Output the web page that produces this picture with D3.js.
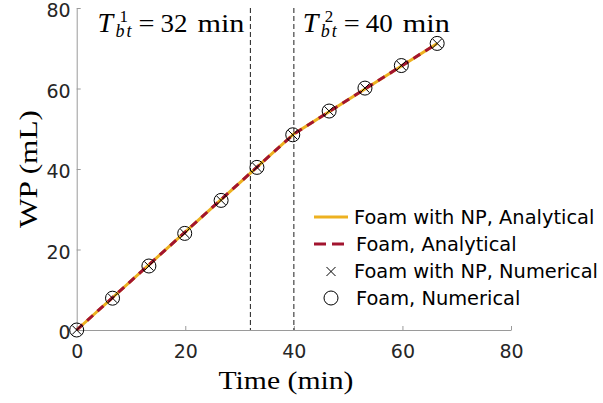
<!DOCTYPE html>
<html>
<head>
<meta charset="utf-8">
<script src="https://cdn.jsdelivr.net/npm/d3@7"></script>
<style>
  body { margin: 0; background: #fff; }
  svg { display: block; }
</style>
</head>
<body>
<div id="js-chart"></div>
<script>
//  Chart data
var xTicks = [0, 20, 40, 60, 80];
var yTicks = [0, 20, 40, 60, 80];

//  Analytical curves
var anaTime = [0, 32, 40, 66.4];
var npAnaWP = [0, 39.0, 48.7, 71.2];
var foamAnaWP = [0, 39.0, 48.7, 71.2];

//  Numerical points
var numTime = [0, 6.6, 13.3, 19.9, 26.6, 33.2, 39.8, 46.5, 53.1, 59.8, 66.4];
var npNumWP = [0, 7.9, 15.9, 24.0, 32.2, 40.4, 48.5, 54.4, 60.1, 65.7, 71.2];
var foamNumWP = [0, 7.9, 15.9, 24.0, 32.2, 40.4, 48.5, 54.4, 60.1, 65.7, 71.2];

//  Breakthrough times
var breakTimes = [32, 40];
var breakLabels = ["1", "2"];

var legendLabels = ["Foam with NP, Analytical", "Foam, Analytical",
                    "Foam with NP, Numerical", "Foam, Numerical"];

var yellow = "#EDB120";
var red = "#A2142F";
var serif = "'Liberation Serif', 'DejaVu Serif', serif";
var sans = "'DejaVu Sans', sans-serif";

// ---------------------------------------------------------------------------------- //

var svg = d3.select("#js-chart")
  .append("svg")
  .attr("width", 603)
  .attr("height", 403);

var x = d3.scaleLinear().domain([0, 80]).range([76.7, 511]);
var y = d3.scaleLinear().domain([0, 80]).range([330, 8]);

//  Axes (ticks inside)
var xAxis = svg.append("g")
  .attr("transform", "translate(0," + y(0) + ")")
  .call(d3.axisBottom(x).tickValues(xTicks).tickSize(-4).tickSizeOuter(0).tickPadding(10));

var yAxis = svg.append("g")
  .attr("transform", "translate(" + x(0) + ",0)")
  .call(d3.axisLeft(y).tickValues(yTicks).tickSize(-4).tickSizeOuter(0).tickPadding(6));

[xAxis, yAxis].forEach(function(ax) {
  ax.select(".domain").attr("stroke", "#9a9a9a").attr("stroke-width", 1);
  ax.selectAll(".tick line").attr("stroke", "#9a9a9a");
  ax.selectAll(".tick text")
    .attr("fill", "#262626")
    .style("font-family", sans)
    .style("font-size", "19px");
});
xAxis.selectAll(".tick text").attr("dy", "0.95em");
yAxis.selectAll(".tick text").attr("dy", "0.45em");

//  Axis titles
svg.append("text")
  .attr("x", 286)
  .attr("y", 389)
  .attr("text-anchor", "middle")
  .attr("textLength", 135)
  .attr("lengthAdjust", "spacingAndGlyphs")
  .style("font-family", serif)
  .style("font-size", "25px")
  .attr("fill", "#000")
  .text("Time (min)");

svg.append("text")
  .attr("transform", "translate(37," + ((y(0) + y(80)) / 2) + ") rotate(-90)")
  .attr("text-anchor", "middle")
  .attr("textLength", 118)
  .attr("lengthAdjust", "spacingAndGlyphs")
  .style("font-family", serif)
  .style("font-size", "25px")
  .attr("fill", "#000")
  .text("WP (mL)");

//  Breakthrough lines
svg.selectAll(".bt-line")
  .data(breakTimes)
  .enter().append("line")
  .attr("class", "bt-line")
  .attr("x1", function(d) { return x(d); })
  .attr("x2", function(d) { return x(d); })
  .attr("y1", y(80))
  .attr("y2", y(0))
  .attr("stroke", "#333")
  .attr("stroke-width", 1.1)
  .attr("stroke-dasharray", "5,3");

//  Breakthrough labels  (T_bt^i = t min)
breakTimes.forEach(function(t, i) {
  var x0 = i === 0 ? x(t) - 153 : x(t) + 9;
  var g = svg.append("g")
    .attr("transform", "translate(" + x0 + ",31.5)")
    .style("font-family", serif)
    .attr("fill", "#000");

  // T with super- and subscript in one text element
  var sym = g.append("text").attr("x", 0).attr("y", 0);
  sym.append("tspan")
    .style("font-style", "italic").style("font-size", "28px").text("T");
  sym.append("tspan").attr("x", 22).attr("y", -9.5)
    .style("font-size", "17px").text(breakLabels[i]);
  sym.append("tspan").attr("x", 18).attr("y", 5.5)
    .style("font-style", "italic").style("font-size", "18px")
    .style("letter-spacing", "2px").text("bt");

  g.append("text").attr("x", 41).attr("y", 0)
    .attr("textLength", 16).attr("lengthAdjust", "spacingAndGlyphs")
    .style("font-size", "26px").text("=");
  g.append("text").attr("x", 63).attr("y", 0)
    .attr("textLength", 27).attr("lengthAdjust", "spacingAndGlyphs")
    .style("font-size", "26px").text(t);
  g.append("text").attr("x", 100).attr("y", 0)
    .attr("textLength", 47).attr("lengthAdjust", "spacingAndGlyphs")
    .style("font-size", "26px").text("min");
});

//  Analytical curves
var line = d3.line()
  .x(function(d) { return x(d[0]); })
  .y(function(d) { return y(d[1]); });

svg.append("path")
  .attr("d", line(d3.zip(anaTime, npAnaWP)))
  .attr("fill", "none")
  .attr("stroke", yellow)
  .attr("stroke-width", 3);

svg.append("path")
  .attr("d", line(d3.zip(anaTime, foamAnaWP)))
  .attr("fill", "none")
  .attr("stroke", red)
  .attr("stroke-width", 3)
  .attr("stroke-dasharray", "8,6");

//  Numerical markers
var cross = d3.symbol().type(d3.symbolX).size(55);

svg.selectAll(".np-num")
  .data(d3.zip(numTime, npNumWP))
  .enter().append("path")
  .attr("class", "np-num")
  .attr("d", cross)
  .attr("transform", function(d) { return "translate(" + x(d[0]) + "," + y(d[1]) + ")"; })
  .attr("fill", "none")
  .attr("stroke", "#000")
  .attr("stroke-width", 1);

svg.selectAll(".foam-num")
  .data(d3.zip(numTime, foamNumWP))
  .enter().append("circle")
  .attr("class", "foam-num")
  .attr("cx", function(d) { return x(d[0]); })
  .attr("cy", function(d) { return y(d[1]); })
  .attr("r", 7)
  .attr("fill", "none")
  .attr("stroke", "#000")
  .attr("stroke-width", 1);

//  Legend
var legend = svg.append("g")
  .style("font-family", sans)
  .style("font-size", "19.4px");

var rowY = [217, 244, 271.5, 298];
var textX = [354, 356, 354, 356];

legendLabels.forEach(function(label, i) {
  if (i === 0) {
    legend.append("line")
      .attr("x1", 314).attr("x2", 348).attr("y1", rowY[i]).attr("y2", rowY[i])
      .attr("stroke", yellow).attr("stroke-width", 3);
  } else if (i === 1) {
    legend.append("line")
      .attr("x1", 314).attr("x2", 348).attr("y1", rowY[i]).attr("y2", rowY[i])
      .attr("stroke", red).attr("stroke-width", 3)
      .attr("stroke-dasharray", "12,6");
  } else if (i === 2) {
    legend.append("path")
      .attr("d", cross)
      .attr("transform", "translate(331," + rowY[i] + ")")
      .attr("fill", "none").attr("stroke", "#000").attr("stroke-width", 1);
  } else {
    legend.append("circle")
      .attr("cx", 331).attr("cy", rowY[i]).attr("r", 7)
      .attr("fill", "none").attr("stroke", "#000").attr("stroke-width", 1);
  }
  legend.append("text")
    .attr("x", textX[i])
    .attr("y", rowY[i])
    .attr("dy", "0.36em")
    .attr("fill", "#000")
    .text(label);
});
</script>
</body>
</html>
